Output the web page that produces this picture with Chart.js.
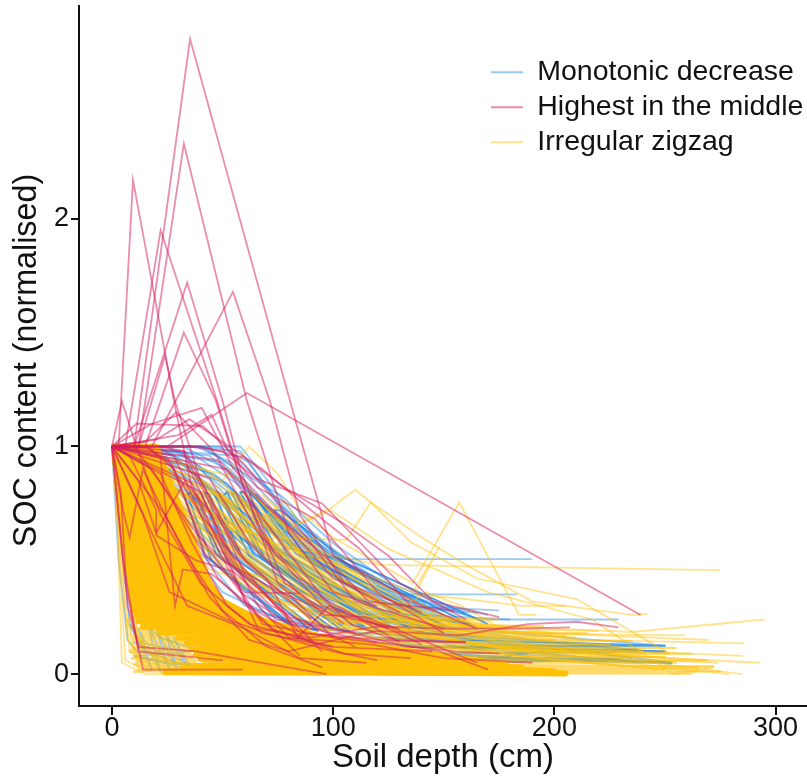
<!DOCTYPE html>
<html>
<head>
<meta charset="utf-8">
<title>SOC content</title>
<script src="https://cdn.jsdelivr.net/npm/chart.js@4"></script>
<style>
  html, body { margin: 0; padding: 0; background: #fff; }
  #wrap { position: relative; width: 807px; height: 783px; }
</style>
</head>
<body>
<div id="wrap"><canvas id="chart" width="807" height="783"></canvas></div>
<script>
const legendNames = ['Monotonic decrease', 'Highest in the middle', 'Irregular zigzag'];
const xTicks = [0, 100, 200, 300];
const yTicks = [0, 1, 2];

// each profile is a list of [depth, value]
const monotonic = [
  [[0,1],[30,.98],[55,.8],[80,.55],[105,.505],[190,.505]],
  [[0,1],[25,1],[50,.85],[75,.62],[100,.45],[130,.35],[183,.35]],
  [[0,1],[40,1],[60,.88],[77,.78],[100,.575],[126,.4],[150,.3],[170,.26]],
  [[0,1],[35,1],[58,.98],[75,.75],[100,.55],[125,.38],[166,.24],[229,.24]],
  [[0,1],[20,1],[40,.9],[65,.7],[90,.5],[120,.33],[155,.2],[250,.125]],
  [[0,1],[20,.98],[45,.8],[70,.55],[95,.38],[125,.25],[160,.17],[250,.095]],
  [[0,1],[15,1],[35,.85],[60,.6],[85,.42],[115,.28],[145,.19],[253,.05]],
  [[0,1],[28,.96],[48,.78],[68,.66],[88,.52],[108,.42],[130,.3],[175,.28]],
  [[0,1],[32,1],[52,.9],[72,.7],[92,.56],[112,.4],[135,.29],[165,.27]],
  [[0,1],[22,.93],[42,.72],[62,.62],[82,.47],[102,.36],[122,.28],[160,.22]],
  [[0,1],[18,.9],[38,.74],[58,.55],[78,.4],[98,.3],[128,.2],[170,.15]],
  [[0,1],[26,.9],[46,.7],[66,.5],[86,.36],[106,.28],[136,.22],[200,.14]],
  [[0,1],[30,.94],[50,.76],[70,.6],[90,.44],[110,.34],[140,.26],[180,.24]],
  [[0,1],[24,.98],[44,.83],[64,.67],[84,.55],[104,.43],[124,.33],[150,.25]],
  [[0,1],[36,.97],[56,.84],[76,.68],[96,.5],[116,.38],[146,.27]],
  [[0,1],[38,1],[54,.93],[70,.78],[90,.6],[110,.46],[130,.33],[160,.26]],
  [[0,1],[34,.92],[52,.72],[72,.56],[92,.46],[112,.32],[132,.24]],
  [[0,1],[20,.85],[40,.66],[60,.48],[80,.36],[100,.27],[120,.21],[210,.1]],
  [[0,1],[16,.86],[36,.6],[56,.46],[76,.33],[96,.26],[116,.19],[190,.11]],
  [[0,1],[28,.82],[48,.62],[68,.45],[88,.32],[108,.24],[138,.18],[235,.07]],
  [[0,1],[24,.78],[44,.58],[64,.42],[84,.3],[104,.22],[134,.16],[225,.06]],
  [[0,1],[40,.9],[60,.7],[80,.5],[100,.34],[120,.24],[150,.19]],
  [[0,1],[44,.96],[64,.78],[84,.58],[104,.4],[124,.3],[144,.21],[175,.2]],
  [[0,1],[30,.86],[50,.66],[70,.52],[90,.39],[110,.29],[130,.22]],
  [[0,1],[34,.8],[54,.64],[74,.47],[94,.35],[114,.26],[144,.17]],
  [[0,1],[42,.84],[62,.66],[82,.49],[102,.37],[122,.27],[152,.2]],
  [[0,1],[46,.88],[66,.72],[86,.54],[106,.39],[126,.31],[156,.23]],
  [[0,1],[50,.93],[70,.74],[90,.52],[110,.41],[130,.27],[165,.21]],
  [[0,1],[38,.76],[58,.58],[78,.44],[98,.33],[118,.25],[158,.16]],
  [[0,1],[48,.8],[68,.6],[88,.46],[108,.35],[128,.25],[158,.19]],
  [[0,1],[52,.84],[72,.62],[92,.49],[112,.36],[132,.28],[162,.22]],
  [[0,1],[44,.72],[64,.55],[84,.41],[104,.31],[124,.23],[164,.15]],
  [[0,1],[36,.68],[56,.52],[76,.38],[96,.29],[116,.22],[176,.13]],
  [[0,1],[55,.96],[72,.8],[92,.58],[112,.44],[132,.35],[150,.29]],
  [[0,1],[58,1],[68,.88],[84,.68],[104,.5],[124,.36],[150,.26]],
  [[0,1],[48,1],[62,.93],[78,.72],[98,.53],[118,.41],[138,.3]],
  [[0,1],[42,1],[56,.9],[74,.66],[94,.52],[114,.43],[142,.31]],
  [[0,1],[6,.5],[12,.24],[22,.16],[40,.1],[70,.06]],
  [[0,1],[4,.6],[8,.22],[15,.1],[30,.05],[50,.03]],
  [[0,1],[7,.62],[14,.3],[24,.2],[38,.14],[65,.08]],
  [[0,1],[3,.5],[7,.15],[14,.07],[33,.04],[45,.02]],
  [[0,1],[10,.7],[16,.36],[26,.22],[44,.13],[90,.07]],
  [[0,1],[50,.36],[80,.22],[110,.18],[160,.17],[220,.13]],
  [[0,1],[48,.3],[78,.2],[118,.14],[180,.1],[253,.045]],
  [[0,1],[60,.3],[90,.2],[130,.17],[175,.09],[250,.055]],
  [[0,1],[70,.26],[100,.2],[140,.125],[190,.115],[238,.11]],
  [[0,1],[60,.2],[100,.12],[150,.08],[200,.06],[228,.06]]
];

// the tightly packed parts of the monotonic group, read as one running trace
const monotonicBand = [
  [32,.8],[42,.52],[82,.2],[86,.18],[45,.5],[34,.79],[36,.8],[47,.53],[89,.2],[93,.19],[49,.52],[38,.78],
  [40,.8],[52,.51],[96,.21],[100,.2],[54,.52],[42,.8],[44,.79],[57,.53],[103,.2],[107,.19],[59,.51],[46,.8],
  [48,.8],[62,.52],[110,.21],[114,.2],[64,.53],[50,.78],[52,.8],[67,.52],[117,.19],[121,.21],[69,.51],[54,.8],
  [56,.79],[72,.53],[124,.2],[128,.2],[74,.52],[58,.8],[60,.8],[77,.51],[131,.22],[135,.2],[80,.52],[62,.78],
  [63,.8],[83,.53],[138,.21],[143,.2],[86,.52],[65,.79],[66,.78],[89,.51],[148,.22],[153,.2],[92,.52],[68,.74],
  [70,.74],[95,.53],[158,.22],[164,.21],[99,.52],[73,.72],[76,.72],[103,.52],[170,.22]
];
const monotonicTail = [
  [120,.16],[250,.125],[130,.12],[250,.1],[140,.09],[253,.05],[150,.07],[230,.065],[160,.05],[200,.11],[170,.13],[229,.12]
];
const monotonicShallow = [
  [8,.22],[18,.02],[12,.2],[22,.01],[16,.22],[26,.02],[20,.2],[30,.01],[24,.18],[34,.03],[28,.16],[36,.02],
  [10,.08],[36,.1],[10,.14],[34,.05]
];

const zigzag = [
  [[0,1],[30,.8],[60,.6],[121,.48],[275,.457]],
  [[0,1],[50,.85],[62,1],[75,.88],[85,.72],[100,.6],[136,.4],[157,.755],[184,.26],[192,.26]],
  [[0,1],[40,.85],[75,.62],[99,.73],[110,.81],[117,.755],[140,.6],[160,.48],[190,.32],[235,.26],[242,.265]],
  [[0,1],[35,.7],[70,.6],[106,.59],[117,.755],[135,.58],[165,.42],[210,.33],[252,.09]],
  [[0,1],[60,.62],[78,.76],[85,.66],[99,.72],[125,.55],[170,.36],[217,.24],[254,0],[272,.03]],
  [[0,1],[45,.7],[80,.55],[120,.42],[136,.36],[148,.56],[137,.35],[160,.33],[185,.3],[205,.3]],
  [[0,1],[25,.8],[60,.45],[110,.3],[150,.22],[235,.185],[295,.24]],
  [[0,1],[45,.6],[70,.7],[95,.55],[125,.33],[170,.2],[220,.19]],
  [[0,1],[20,.9],[58,.66],[88,.44],[130,.28],[142,.36],[158,.3],[176,.2]],
  [[0,1],[30,.94],[52,.76],[72,.58],[96,.42],[128,.26],[165,.18],[259,.17]],
  [[0,1],[28,.88],[48,.67],[68,.55],[88,.4],[112,.28],[150,.2],[270,.15]],
  [[0,1],[26,.84],[46,.62],[66,.47],[86,.35],[120,.24],[170,.16],[286,.135]],
  [[0,1],[32,.8],[52,.6],[72,.46],[92,.33],[122,.22],[190,.12],[285,.08]],
  [[0,1],[22,.76],[42,.56],[62,.43],[82,.31],[112,.2],[190,.1],[293,.05]],
  [[0,1],[34,.74],[54,.55],[74,.4],[94,.29],[124,.19],[200,.08],[274,.05]],
  [[0,1],[36,.8],[56,.66],[76,.5],[96,.38],[116,.29],[146,.2],[190,.13]],
  [[0,1],[38,.86],[58,.7],[78,.53],[98,.4],[118,.31],[148,.22],[215,.15]],
  [[0,1],[42,.9],[62,.74],[82,.56],[102,.43],[122,.32],[152,.24],[200,.18]],
  [[0,1],[46,.8],[66,.58],[86,.44],[106,.33],[126,.25],[156,.18],[230,.12]],
  [[0,1],[40,.68],[60,.5],[80,.39],[100,.28],[130,.2],[170,.13],[240,.09]],
  [[0,1],[50,.74],[70,.56],[90,.41],[110,.31],[130,.24],[170,.17]],
  [[0,1],[54,.8],[74,.6],[94,.46],[114,.35],[134,.27],[164,.2]],
  [[0,1],[58,.86],[78,.64],[98,.48],[118,.37],[138,.27],[168,.22]],
  [[0,1],[56,.72],[76,.53],[96,.4],[116,.3],[146,.21],[200,.14]],
  [[0,1],[64,.72],[84,.52],[104,.38],[124,.3],[154,.22],[210,.16]],
  [[0,1],[62,.6],[82,.44],[102,.33],[122,.25],[152,.17],[205,.11]],
  [[0,1],[70,.68],[90,.48],[110,.36],[130,.28],[160,.21],[200,.15]],
  [[0,1],[48,.5],[68,.42],[88,.33],[108,.25],[138,.18],[180,.11],[252,.09]],
  [[0,1],[44,.46],[74,.37],[94,.28],[124,.2],[164,.13],[250,.07]],
  [[0,1],[52,.44],[72,.33],[102,.26],[132,.18],[172,.12],[270,.06]],
  [[0,1],[60,.38],[90,.27],[120,.22],[160,.14],[220,.08],[285,0]],
  [[0,1],[68,.34],[98,.25],[128,.19],[178,.11],[279,0]],
  [[0,1],[75,.3],[105,.22],[135,.16],[185,.08],[250,.02]],
  [[0,1],[85,.24],[115,.19],[150,.12],[200,.06],[265,.01]],
  [[0,1],[95,.2],[130,.14],[175,.09],[225,.04],[272,.03]],
  [[0,1],[2,.8],[4.5,.05],[15,0],[60,0]],
  [[0,1],[3,.6],[6,.06],[18,.01],[80,0]],
  [[0,1],[4,.5],[8,.1],[16,.03],[50,.01],[110,0]],
  [[0,1],[3,.7],[7,.16],[13,.06],[30,.02],[70,.01]],
  [[0,1],[5,.6],[9,.22],[16,.1],[28,.05],[60,.02]],
  [[0,1],[6,.5],[10,.18],[19,.07],[34,.04],[58,.01]]
];

const zigzagBand = [
  [33,.8],[52,.52],[84,.2],[90,.2],[55,.5],[35,.78],[37,.8],[58,.53],[94,.2],[99,.19],[61,.52],[39,.79],
  [41,.8],[64,.51],[103,.21],[108,.2],[67,.53],[43,.78],[46,.8],[70,.52],[112,.2],[118,.2],[73,.52],[48,.8],
  [50,.79],[76,.53],[122,.21],[128,.19],[79,.51],[53,.8],[55,.8],[82,.52],[132,.2],[138,.21],[85,.53],[58,.78],
  [60,.8],[88,.51],[143,.2],[149,.2],[91,.52],[63,.8],[65,.78],[94,.52],[154,.2],[160,.21],[97,.51],[68,.79]
];
const zigzagTail = [
  [95,.26],[175,.24],[98,.23],[195,.21],[100,.2],[215,.18],[103,.18],[205,.165],[105,.16],[235,.145],
  [108,.14],[225,.13],[110,.125],[255,.115],[112,.11],[240,.1],[115,.095],[262,.09],[118,.08],[250,.075],
  [120,.065],[268,.06],[125,.055],[255,.05],[130,.04],[272,.035],[135,.03],[265,.025],[140,.015],[275,.012],
  [145,.008],[258,.005],[150,.004],[262,.002],[160,.018],[250,.016]
];
const zigzagShallow = [
  [7,.25],[12,.02],[10,.26],[16,.01],[13,.25],[20,.02],[16,.24],[24,.01],[19,.24],[28,.02],[22,.22],[32,.01],
  [26,.2],[36,.02],[30,.18],[40,.01],[9,.12],[40,.08],[9,.07],[38,.04],[10,.04],[36,.14],[10,.17],[36,.16],
  [9,.2],[34,.2],[11,.23],[28,.22],[8,.1],[30,.02],[9,.16],[38,.06],[12,.02],[36,.12],[14,.21],[24,.03],
  [10,.01],[40,.03],[11,.05],[18,.2],[22,.04],[25,.19],[31,.03],[31,.17],[37,.03]
];

// the solid part of the zigzag group, where single profiles can not be told apart
const zigzagCore = [
  [1,1],[20.5,.988],[1.2,.976],[21,.964],[1.5,.952],[22,.94],[1.8,.928],[23,.916],[2,.904],[24,.892],
  [2.3,.88],[25,.868],[2.5,.856],[26,.844],[2.8,.832],[27,.82],[3,.808],[28,.796],[3.3,.784],[29,.772],
  [3.6,.76],[30,.748],[4,.736],[31,.724],[4.3,.712],[32,.7],[4.6,.688],[33,.676],[5,.664],[33.5,.652],
  [5.2,.64],[34.5,.628],[5.5,.616],[35,.604],[5.7,.592],[36,.58],[6,.568],[37,.556],[6.2,.544],[37.5,.532],
  [6.5,.52],[38.5,.508],[6.7,.496],[39,.484],[7,.472],[40,.46],[7.2,.448],[41,.436],[7.5,.424],[42,.412],
  [8,.4],[44,.388],[8.3,.376],[45.5,.364],[8.6,.352],[47,.34],[9,.328],[50,.316],[9.5,.304],[54,.292],
  [10,.28],[60,.268],[11,.256],[66,.244],[12,.232],[74,.22],[14,.208],[82,.196],[22,.184],[92,.172],
  [30,.16],[104,.148],[34,.136],[120,.124],[36,.112],[135,.1],[38,.088],[150,.078],[40,.066],[165,.06],
  [42,.052],[178,.044],[38,.036],[185,.03],[32,.022],[188,.016],[24,.008],[190,.004],
  [205,.003],[188,.012],[200,.012],[182,.02],
  [178,.04],[165,.06],[150,.08],[135,.1],[120,.125],[104,.15],[92,.17],[82,.2],[70,.23],[60,.27],[50,.32],[44,.4],
  [40,.5],[36,.6],[32,.7],[28,.8],[24,.9],[20,1],[1,1],[3,.8],[5.5,.6],[6.5,.5],[8,.4],[10,.3],[12,.25]
];

const middle = [
  [[0,1],[10,1],[35.3,2.79],[80.5,1.2],[100,.52],[140,.3],[165,.2]],
  [[0,1],[12,1],[32.5,2.33],[61,1.2],[80,.62],[100,.36],[120,.3]],
  [[0,1],[3,1],[9.5,2.17],[28,1.2],[36,.82],[52,.5],[80,.25],[110,.18]],
  [[0,1],[6,1],[22,1.95],[47.5,1.2],[60,.8],[78,.4],[105,.22]],
  [[0,1],[10,1],[34,1.72],[50,1.2],[58,.9],[72,.55],[95,.3],[125,.2]],
  [[0,1],[15,1],[32.5,1.5],[47,1.2],[55,.95],[75,.4],[100,.16]],
  [[0,1],[18,1],[54.7,1.68],[71.4,1.2],[85,.7],[105,.4],[130,.27]],
  [[0,1],[12,1],[24,1.4],[28.5,1.2],[40,.85],[60,.5],[90,.24]],
  [[0,1],[4.5,1.2],[11,1],[22,.7],[40,.4],[62,.22],[100,.12]],
  [[0,1],[25,1],[61,1.235],[239,.26]],
  [[0,1],[18,1.1],[40.6,1.17],[55,.9],[75,.7],[100,.42],[140,.27]],
  [[0,1],[11,1.1],[41,1.09],[60,.92],[88,.6],[110,.32],[150,.2]],
  [[0,1],[15,1.02],[29,1.15],[44,1],[70,.66],[95,.34],[130,.14]],
  [[0,1],[20,1.03],[35,1.12],[50,1.02],[68,.9],[90,.72],[112,.55],[135,.3]],
  [[0,1],[30,1.05],[45,1.14],[52,.99],[66,.82],[92,.68],[120,.36],[150,.18]],
  [[0,1],[40,1],[60,.95],[78,.82],[105,.66],[125,.52],[145,.32],[175,.25]],
  [[0,1],[35,1],[50,.98],[65,.86],[95,.75],[130,.4],[160,.24]],
  [[0,1],[20,1],[33,.98],[44,.78],[60,.44],[75,.3],[95,.1]],
  [[0,1],[15,1],[27,.92],[40,.6],[58,.36],[80,.22],[120,.14]],
  [[0,1],[10,1],[25,.8],[38,.62],[50,.5],[74,.37],[100,.26],[130,.2]],
  [[0,1],[8,.96],[20,.72],[20,.61],[38,.5],[55,.45],[72,.3],[110,.12]],
  [[0,1],[22,.95],[28.5,.3],[32,.46],[45,.44],[65,.28],[90,.14]],
  [[0,1],[5,.72],[8,.6],[14,.9],[24,.7],[32,.55],[50,.28],[70,.12],[95,.03]],
  [[0,1],[12,.85],[20,.62],[33,.85],[45,.7],[60,.32],[85,.08]],
  [[0,1],[16,1],[28,.9],[42,.53],[60,.36],[85,.355]],
  [[0,1],[18,.9],[30,.72],[48,.42],[72,.2],[105,.09],[135,.07]],
  [[0,1],[25,.95],[40,.7],[55,.52],[72,.32],[85,.18],[120,.15],[160,.14]],
  [[0,1],[32,.98],[46,.72],[58,.52],[70,.42],[84,.16],[98,.3],[125,.2],[140,.13]],
  [[0,1],[28,.96],[42,.66],[56,.4],[68,.22],[100,.16],[155,.1],[175,.09]],
  [[0,1],[22,.88],[36,.58],[52,.3],[68,.18],[100,.12],[145,.1]],
  [[0,1],[34,.92],[50,.6],[66,.3],[80,.16],[118,.13],[150,.07],[190,.05]],
  [[0,1],[4,.8],[7,.3],[12,.12],[38,.1],[97,0]],
  [[0,1],[5,.5],[12,.1],[50,.06]],
  [[0,1],[6,.4],[14,.02],[59,.02]],
  [[0,1],[14,.7],[26,.36],[52,.24],[70,.18],[100,.1],[120,.06]],
  [[0,1],[18,.62],[34,.3],[60,.2],[85,.07],[115,.05]],
  [[0,1],[24,.7],[44,.34],[62,.15],[80,.1],[105,.16],[120,.19],[157,.17],[188,.22],[210,.23],[229,.205]],
  [[0,1],[36,.84],[52,.5],[66,.2],[90,.16],[120,.21],[150,.2],[180,.2],[207,.205]],
  [[0,1],[40,.8],[56,.46],[74,.24],[100,.2],[130,.13],[148,.1],[170,.02]],
  [[0,1],[44,.86],[62,.58],[82,.38],[96,.26],[115,.25],[135,.17],[165,.05]],
  [[0,1],[48,.94],[66,.62],[88,.4],[108,.22],[128,.15],[160,.14]],
  [[0,1],[52,.9],[74,.7],[98,.5],[116,.32],[134,.3],[155,.28]]
];

const blue = 'rgba(30,136,229,0.45)';
const blueDense = 'rgba(30,136,229,0.8)';
const pink = 'rgba(216,27,96,0.5)';
const amber = 'rgba(255,193,7,0.45)';
const amberDense = 'rgba(255,193,7,0.6)';
const amberSolid = '#FFC107';

function toPoints(profile) {
  return profile.map(p => ({ x: p[0], y: p[1] }));
}

function profileSets(list, color, drawOrder) {
  return list.map(profile => ({
    data: toPoints(profile),
    borderColor: color,
    borderWidth: 1.8,
    order: drawOrder
  }));
}

function traceSet(trace, color, width, drawOrder) {
  return {
    data: toPoints(trace),
    borderColor: color,
    borderWidth: width,
    borderJoinStyle: 'round',
    order: drawOrder
  };
}

const datasets = [
  ...profileSets(middle, pink, 1),
  ...profileSets(zigzag, amber, 2),
  traceSet(zigzagBand, amberDense, 2, 2),
  traceSet(zigzagTail, amberDense, 2, 2),
  traceSet(zigzagShallow, amberDense, 2.5, 2),
  traceSet(zigzagCore, amberSolid, 6, 3),
  ...profileSets(monotonic, blue, 4),
  traceSet(monotonicBand, blueDense, 2, 4),
  traceSet(monotonicTail, blueDense, 2, 4),
  traceSet(monotonicShallow, blue, 2, 4)
];

// the legend is moved by hand to where it sits in the original
const placeLegend = {
  id: 'placeLegend',
  afterLayout(chart) {
    chart.legend.left = 484.5;
    chart.legend.top = 51.5;
  }
};

new Chart(document.getElementById('chart'), {
  type: 'line',
  data: { datasets: datasets },
  plugins: [placeLegend],
  options: {
    responsive: false,
    animation: false,
    layout: { padding: { top: 6 } },
    elements: {
      point: { radius: 0 },
      line: { tension: 0 }
    },
    scales: {
      x: {
        type: 'linear',
        min: -14.9,
        max: 314.2,
        afterFit(scale) { scale.height = 77; },
        afterBuildTicks(scale) { scale.ticks = xTicks.map(v => ({ value: v })); },
        border: { display: true, color: '#111', width: 2 },
        grid: { drawOnChartArea: false, color: '#111', lineWidth: 2, tickLength: 9 },
        ticks: { color: '#111', padding: -3, maxRotation: 0, font: { family: 'Liberation Sans', size: 27 } },
        title: {
          display: true,
          text: 'Soil depth (cm)',
          color: '#111',
          padding: { top: 0, bottom: 5 },
          font: { family: 'Liberation Sans', size: 33 }
        }
      },
      y: {
        type: 'linear',
        min: -0.14,
        max: 2.935,
        afterFit(scale) {
          scale.width = 79;
          scale.paddingTop = 0;
          scale.paddingBottom = 0;
        },
        afterBuildTicks(scale) { scale.ticks = yTicks.map(v => ({ value: v })); },
        border: { display: true, color: '#111', width: 2 },
        grid: { drawOnChartArea: false, color: '#111', lineWidth: 2, tickLength: 8 },
        ticks: { color: '#111', padding: 2, font: { family: 'Liberation Sans', size: 27 } },
        title: {
          display: true,
          text: 'SOC content (normalised) ',
          color: '#111',
          padding: { top: 8, bottom: 0 },
          font: { family: 'Liberation Sans', size: 32.3 }
        }
      }
    },
    plugins: {
      tooltip: { enabled: false },
      legend: {
        position: 'chartArea',
        align: 'start',
        labels: {
          usePointStyle: true,
          pointStyleWidth: 32,
          padding: 6.5,
          color: '#111',
          font: { family: 'Liberation Sans', size: 28.5 },
          generateLabels() {
            const colors = [blue, pink, amber];
            return legendNames.map((name, i) => ({
              text: name,
              strokeStyle: colors[i],
              fillStyle: colors[i],
              fontColor: '#111',
              lineWidth: 2,
              pointStyle: 'line',
              hidden: false
            }));
          }
        }
      }
    }
  }
});
</script>
</body>
</html>
